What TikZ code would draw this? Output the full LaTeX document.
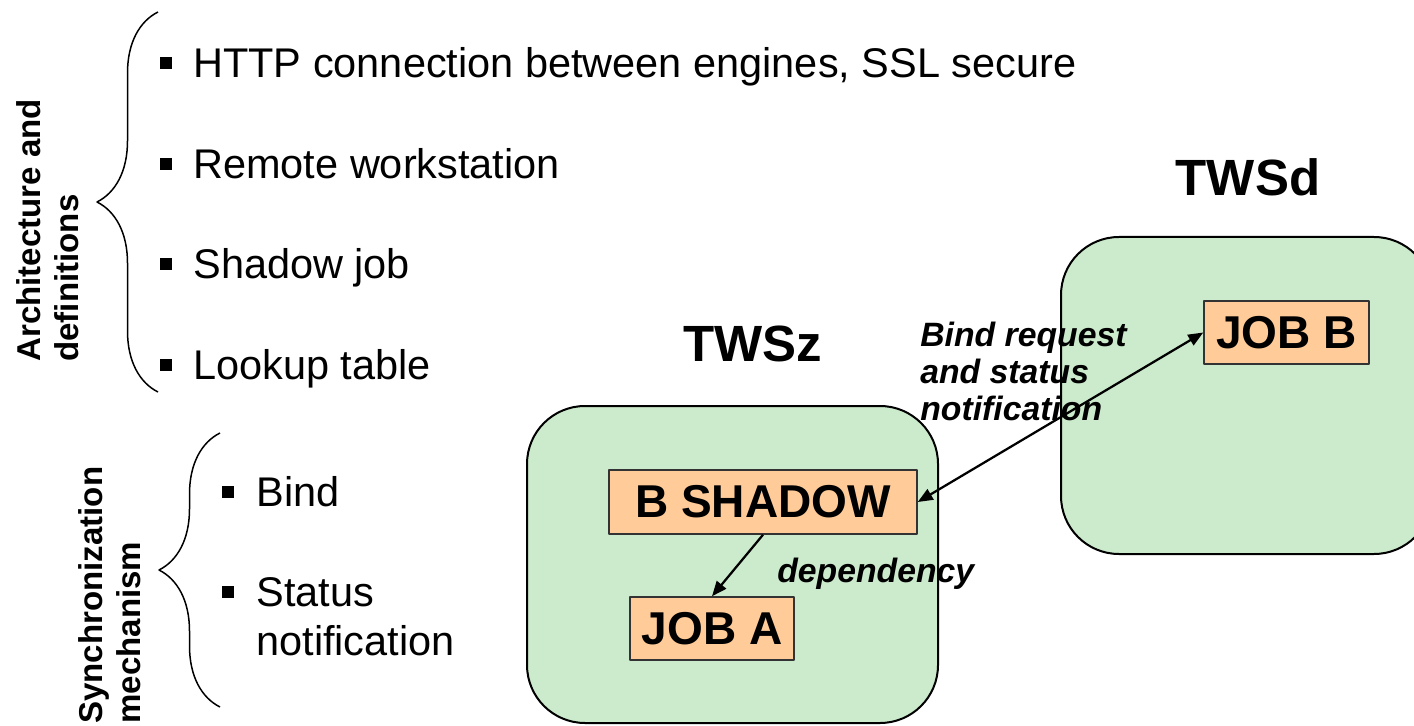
\documentclass[tikz,border=0pt]{standalone}
\usepackage{fontspec}
\setmainfont{Liberation Sans}
\usetikzlibrary{arrows.meta,decorations.pathreplacing}
\definecolor{enginefill}{HTML}{CCEBCC}
\definecolor{jobfill}{HTML}{FFCC99}

\begin{document}
\begin{tikzpicture}[
  x=0.2mm,
  y=-0.2mm,
  line join=round,
  engine/.style={draw=black,fill=enginefill,line width=0.4mm,rounded corners=11.6mm},
  jobbox/.style={draw=black!80,fill=jobfill,line width=0.3mm,inner sep=0,font=\fontsize{26.2}{30}\selectfont\bfseries},
  itemtext/.style={inner sep=0,align=left,font=\fontsize{23.6}{27.9}\selectfont},
  bulletsq/.style={fill=black,inner sep=0,minimum size=2.4mm},
  grouplabel/.style={rotate=90,anchor=north west,inner sep=0,align=left,font=\fontsize{18.8}{21.6}\selectfont\bfseries},
  grp/.style={decorate,decoration={brace,amplitude=12.2mm},line width=0.3mm},
  title/.style={inner sep=0,font=\fontsize{29}{34}\selectfont\bfseries},
  note/.style={inner sep=0,align=left,font=\fontsize{19.2}{21}\selectfont\bfseries\itshape},
  link/.style={line width=0.45mm,>={Triangle[length=3mm,width=2.4mm]}}
]
  \useasboundingbox (0,0) rectangle (1414,726);
  \clip (0,0) rectangle (1414,726);

  % Left column: two groups of bullet points, each with a brace and a label.
  \node[grouplabel] (archlabel) at (16,362) {Architecture and\\definitions};
  \node[grouplabel] (synclabel) at (78,724) {Synchronization\\mechanism};
  \draw[grp] (158,392) -- (158,12);
  \draw[grp] (220,707) -- (220,433);

  \foreach \yy/\txt [count=\i] in {78/{HTTP connection between engines, SSL secure},
      178.5/{Remote workstation},279/{Shadow job},379.5/{Lookup table}} {
    \node[bulletsq] (dot\i) at (166,\yy-14.5) {};
    \node[itemtext,anchor=base west] (item\i) at (193,\yy) {\txt};
  }
  \node[bulletsq] (binddot) at (227.5,492) {};
  \node[itemtext,anchor=base west] (binditem) at (256,506.5) {Bind};
  \node[bulletsq] (statusdot) at (227.5,592) {};
  \node[itemtext,anchor=north west] (statusitem) at (256,577) {Status\\notification};

  % The two engines.
  \draw[engine] (527,406) rectangle (938,723);
  \draw[engine] (1061,237) rectangle (1432,554);
  \node[title] (twsz) at (753,344) {TWSz};
  \node[title] (twsd) at (1248,177) {TWSd};

  \node[jobbox,minimum width=61.6mm,minimum height=12.8mm] (bshadow) at (763,502) {B SHADOW};
  \node[jobbox,minimum width=32.8mm,minimum height=12.6mm] (joba) at (712,628.5) {JOB A};
  \node[jobbox,minimum width=33mm,minimum height=12.6mm] (jobb) at (1286.5,332.5) {JOB B};

  % Links between the jobs.
  \draw[link,->] (bshadow.south) -- (joba.north);
  \draw[link,<->] (bshadow.east) -- (jobb.west);
  \node[note,anchor=base west] (deplabel) at (777,582) {dependency};
  \node[note,anchor=north west] (bindlabel) at (920,322) {Bind request\\and status\\notification};
\end{tikzpicture}
\end{document}
